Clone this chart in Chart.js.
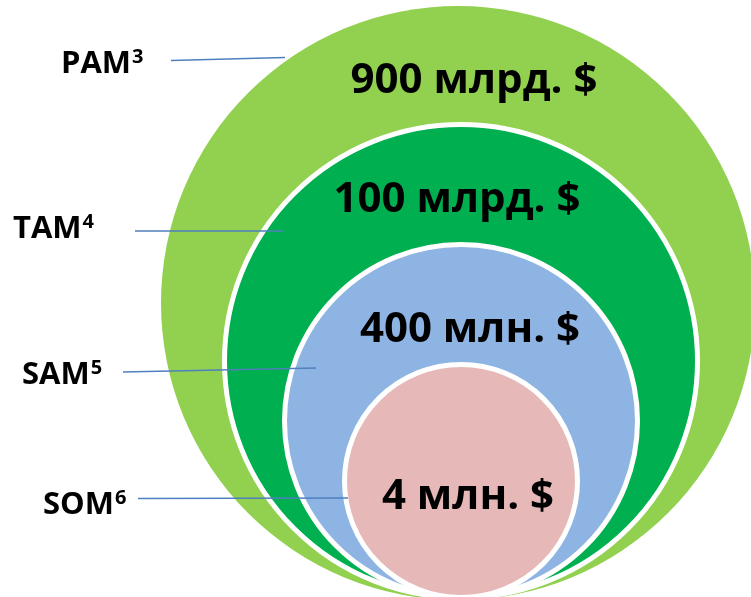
<!DOCTYPE html>
<html>
<head>
<meta charset="utf-8">
<script src="https://cdn.jsdelivr.net/npm/chart.js@4/dist/chart.umd.min.js"></script>
<style>
  html, body { margin: 0; padding: 0; background: #fff; }
  canvas { display: block; }
</style>
</head>
<body>
<canvas id="chart" width="751" height="597"></canvas>
<script>
// данные рынка
const segments = ['PAM', 'TAM', 'SAM', 'SOM'];
const footnotes = ['3', '4', '5', '6'];
const amounts = [900, 100, 400, 4];
const units = ['млрд.', 'млрд.', 'млн.', 'млн.'];
const currency = '$';

// оформление
const colors = ['#92D050', '#00B050', '#8EB4E3', '#E6B9B8'];
const ringBorder = 5;

// геометрия кругов (единицы осей 1:1 с пикселями)
const rings = [
    { x: 458, y: 303, r: 297 },
    { x: 461, y: 361, r: 239 },
    { x: 461, y: 421, r: 179 },
    { x: 461, y: 481, r: 119 }
];
// положение сумм внутри кругов (центр, базовая линия)
const amountPos = [
    { x: 474, y: 93 },
    { x: 457, y: 212 },
    { x: 470, y: 342 },
    { x: 468, y: 509 }
];
// подписи слева и выноски
const labelPos = [
    { x: 61, y: 73 },
    { x: 13, y: 238 },
    { x: 22, y: 384 },
    { x: 43, y: 514 }
];
const leaders = [
    [171, 60.5, 285, 57.5],
    [135, 231, 283, 231],
    [123, 372, 316, 368],
    [138, 498.5, 348, 498]
];

// рисуем подписи поверх кругов
const labelsPlugin = {
    id: 'marketLabels',
    afterDatasetsDraw(chart) {
        const ctx = chart.ctx;
        const sx = chart.scales.x;
        const sy = chart.scales.y;
        ctx.save();

        // выноски
        ctx.strokeStyle = '#4F7FBD';
        ctx.lineWidth = 1.7;
        leaders.forEach(l => {
            ctx.beginPath();
            ctx.moveTo(sx.getPixelForValue(l[0]), sy.getPixelForValue(l[1]));
            ctx.lineTo(sx.getPixelForValue(l[2]), sy.getPixelForValue(l[3]));
            ctx.stroke();
        });

        ctx.fillStyle = '#000';
        ctx.textBaseline = 'alphabetic';

        // суммы
        ctx.font = 'bold 42px "Open Sans", "Liberation Sans", sans-serif';
        ctx.textAlign = 'center';
        amounts.forEach((v, i) => {
            const p = amountPos[i];
            ctx.fillText(v + ' ' + units[i] + ' ' + currency,
                sx.getPixelForValue(p.x), sy.getPixelForValue(p.y));
        });

        // названия сегментов с индексом сноски
        ctx.textAlign = 'left';
        segments.forEach((s, i) => {
            const p = labelPos[i];
            const x = sx.getPixelForValue(p.x);
            const y = sy.getPixelForValue(p.y);
            ctx.font = 'bold 31px "Open Sans", "Liberation Sans", sans-serif';
            ctx.fillText(s, x, y);
            const w = ctx.measureText(s).width;
            ctx.font = 'bold 20px "Open Sans", "Liberation Sans", sans-serif';
            ctx.fillText(footnotes[i], x + w + 1, y - 10);
        });

        ctx.restore();
    }
};

function initChart() {
    const ctx = document.getElementById('chart').getContext('2d');
    new Chart(ctx, {
        type: 'bubble',
        data: {
            datasets: segments.map((s, i) => ({
                label: s,
                data: [{ x: rings[i].x, y: rings[i].y, r: rings[i].r - (i ? ringBorder / 2 : 0) }],
                backgroundColor: colors[i],
                borderColor: '#FFFFFF',
                borderWidth: i ? ringBorder : 0,
                hoverBorderWidth: i ? ringBorder : 0,
                hoverRadius: 0,
                order: segments.length - i,
                clip: false
            }))
        },
        options: {
            responsive: false,
            animation: false,
            events: [],
            layout: { autoPadding: false, padding: 0 },
            scales: {
                x: { type: 'linear', min: 0, max: 751, display: false, offset: false },
                y: { type: 'linear', min: 0, max: 597, reverse: true, display: false, offset: false }
            },
            plugins: {
                legend: { display: false },
                tooltip: { enabled: false }
            }
        },
        plugins: [labelsPlugin]
    });
}

window.onload = initChart;
</script>
</body>
</html>
